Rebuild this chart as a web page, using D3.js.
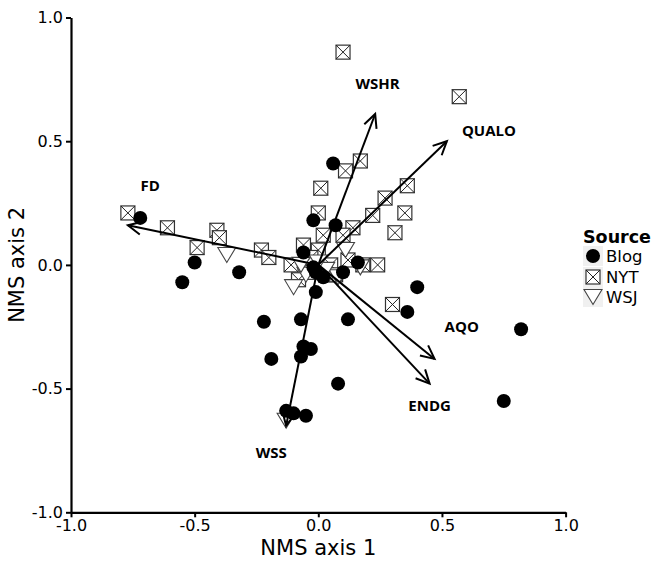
<!DOCTYPE html>
<html>
<head>
<meta charset="utf-8">
<script src="https://cdn.jsdelivr.net/npm/d3@7"></script>
<style>
  body { margin: 0; background: #fff; }
</style>
</head>
<body>
<div id="wrapper"></div>
<script>
// NMS site scores
const blogPoints = [
    [-0.72, 0.19], [-0.50, 0.01], [-0.55, -0.07], [-0.32, -0.03], [-0.22, -0.23],
    [-0.19, -0.38], [-0.07, -0.22], [-0.06, -0.33], [-0.07, -0.37], [-0.03, -0.34],
    [-0.13, -0.59], [-0.10, -0.60], [-0.05, -0.61], [-0.01, -0.11], [-0.01, -0.03],
    [-0.02, -0.01], [0.02, -0.05], [-0.06, 0.05], [-0.02, 0.18], [0.06, 0.41],
    [0.07, 0.16], [0.10, -0.03], [0.16, 0.01], [0.12, -0.22], [0.08, -0.48],
    [0.40, -0.09], [0.36, -0.19], [0.82, -0.26], [0.75, -0.55]
]
const nytPoints = [
    [-0.77, 0.21], [-0.61, 0.15], [-0.49, 0.07], [-0.41, 0.14], [-0.40, 0.11],
    [-0.23, 0.06], [-0.20, 0.03], [-0.11, 0.00], [-0.06, 0.08], [0.01, 0.31],
    [0.00, 0.21], [0.02, 0.12], [0.10, 0.86], [0.57, 0.68], [0.17, 0.42],
    [0.11, 0.38], [0.36, 0.32], [0.27, 0.27], [0.35, 0.21], [0.22, 0.20],
    [0.31, 0.13], [0.14, 0.15], [0.10, 0.12], [0.24, 0.00], [0.00, 0.06],
    [0.12, 0.02], [0.18, 0.00], [-0.08, -0.06], [0.30, -0.16], [0.05, 0.00],
    [-0.03, 0.03], [0.03, -0.04], [0.07, -0.04], [-0.03, -0.03]
]
const wsjPoints = [
    [-0.37, 0.04], [-0.10, -0.09], [-0.13, -0.63], [0.11, 0.06], [0.17, -0.01],
    [0.08, -0.05], [0.03, -0.02], [-0.05, -0.04], [-0.07, 0.00], [0.00, 0.01]
]

// fitted variable vectors and where their names sit
const vectorNames = ["FD", "WSHR", "QUALO", "AQO", "ENDG", "WSS"]
const vectorEnds = [[-0.77, 0.16], [0.23, 0.61], [0.52, 0.50], [0.47, -0.38], [0.45, -0.48], [-0.13, -0.65]]
const vectorLabelAt = [[-0.68, 0.30], [0.24, 0.71], [0.69, 0.52], [0.58, -0.27], [0.45, -0.59], [-0.19, -0.78]]

const axisTicks = [-1.0, -0.5, 0.0, 0.5, 1.0]
const legendItems = ["Blog", "NYT", "WSJ"]

const dimensions = {
    width: 657,
    height: 563,
    left: 71,
    right: 565.6,
    top: 17.5,
    bottom: 512.3,
}

const svg = d3.select("#wrapper")
    .append("svg")
    .attr("width", dimensions.width)
    .attr("height", dimensions.height)
    .style("font-family", "'DejaVu Sans', sans-serif")

const xScale = d3.scaleLinear().domain([-1, 1]).range([dimensions.left, dimensions.right])
const yScale = d3.scaleLinear().domain([-1, 1]).range([dimensions.bottom, dimensions.top])

const tickFmt = d => d3.format(".1f")(d).replace("\u2212", "-")

// axes
const xAxis = svg.append("g")
    .attr("transform", `translate(0,${dimensions.bottom})`)
    .call(d3.axisBottom(xScale).tickValues(axisTicks).tickFormat(tickFmt)
        .tickSize(5).tickSizeOuter(0).tickPadding(2))
const yAxis = svg.append("g")
    .attr("transform", `translate(${dimensions.left},0)`)
    .call(d3.axisLeft(yScale).tickValues(axisTicks).tickFormat(tickFmt)
        .tickSize(5).tickSizeOuter(0).tickPadding(3))

for (const ax of [xAxis, yAxis]) {
    ax.select(".domain").attr("stroke", "#000").attr("stroke-width", 2.2)
    ax.selectAll(".tick line").attr("stroke", "#000").attr("stroke-width", 2)
    ax.selectAll(".tick text")
        .style("font-family", "'DejaVu Sans', sans-serif")
        .attr("font-size", "16px")
        .attr("fill", "#000")
}

svg.append("text")
    .attr("x", xScale(0))
    .attr("y", 555)
    .attr("text-anchor", "middle")
    .attr("font-size", "21px")
    .text("NMS axis 1")

svg.append("text")
    .attr("transform", `translate(24,${yScale(0)}) rotate(-90)`)
    .attr("text-anchor", "middle")
    .attr("font-size", "21px")
    .text("NMS axis 2")

// marker shapes
function drawBox(g, size) {
    const h = size / 2
    g.append("rect")
        .attr("x", -h).attr("y", -h)
        .attr("width", size).attr("height", size)
        .attr("fill", "#fff")
        .attr("stroke", "#333")
        .attr("stroke-width", 1.2)
    g.append("path")
        .attr("d", `M${-h},${-h}L${h},${h}M${h},${-h}L${-h},${h}`)
        .attr("stroke", "#222")
        .attr("stroke-width", 1)
}
function drawTriangle(g, w, hgt) {
    g.append("path")
        .attr("d", `M${-w / 2},${-hgt / 2}L${w / 2},${-hgt / 2}L0,${hgt / 2}Z`)
        .attr("fill", "#fff")
        .attr("stroke", "#444")
        .attr("stroke-width", 1.1)
}

const pointsLayer = svg.append("g")

pointsLayer.selectAll("g.nyt")
    .data(nytPoints)
    .enter()
    .append("g")
    .attr("class", "nyt")
    .attr("transform", d => `translate(${xScale(d[0])},${yScale(d[1])})`)
    .each(function () { drawBox(d3.select(this), 14) })

pointsLayer.selectAll("g.wsj")
    .data(wsjPoints)
    .enter()
    .append("g")
    .attr("class", "wsj")
    .attr("transform", d => `translate(${xScale(d[0])},${yScale(d[1])})`)
    .each(function () { drawTriangle(d3.select(this), 18, 15) })

pointsLayer.selectAll("circle.blog")
    .data(blogPoints)
    .enter()
    .append("circle")
    .attr("class", "blog")
    .attr("cx", d => xScale(d[0]))
    .attr("cy", d => yScale(d[1]))
    .attr("r", 7)
    .attr("fill", "#000")

// biplot arrows
const arrowLayer = svg.append("g")
const x0 = xScale(0), y0 = yScale(0)
vectorEnds.forEach((d, i) => {
    const x1 = xScale(d[0]), y1 = yScale(d[1])
    const ang = Math.atan2(y1 - y0, x1 - x0)
    const len = 15, spread = 0.45
    const a1 = [x1 - len * Math.cos(ang - spread), y1 - len * Math.sin(ang - spread)]
    const a2 = [x1 - len * Math.cos(ang + spread), y1 - len * Math.sin(ang + spread)]
    arrowLayer.append("line")
        .attr("x1", x0).attr("y1", y0)
        .attr("x2", x1).attr("y2", y1)
        .attr("stroke", "#000")
        .attr("stroke-width", 2)
    arrowLayer.append("path")
        .attr("d", `M${a1[0]},${a1[1]}L${x1},${y1}L${a2[0]},${a2[1]}`)
        .attr("fill", "none")
        .attr("stroke", "#000")
        .attr("stroke-width", 2)

    arrowLayer.append("text")
        .attr("x", xScale(vectorLabelAt[i][0]))
        .attr("y", yScale(vectorLabelAt[i][1]))
        .attr("text-anchor", "middle")
        .style("font-family", "'Open Sans', sans-serif")
        .attr("font-weight", "bold")
        .attr("font-size", "15px")
        .text(vectorNames[i])
})

// legend
const legend = svg.append("g").attr("transform", "translate(583,0)")
legend.append("text")
    .attr("x", 0)
    .attr("y", 243)
    .attr("font-weight", "bold")
    .attr("font-size", "17.5px")
    .text("Source")

const keyY = [256, 277, 297]
legendItems.forEach((name, i) => {
    const g = legend.append("g").attr("transform", `translate(10,${keyY[i]})`)
    g.append("rect")
        .attr("x", -10).attr("y", -10)
        .attr("width", 20).attr("height", 20)
        .attr("fill", "#f0f0f0")
    if (i === 0) g.append("circle").attr("r", 7).attr("fill", "#000")
    if (i === 1) drawBox(g, 14)
    if (i === 2) drawTriangle(g, 18, 15)
    legend.append("text")
        .attr("x", 23)
        .attr("y", keyY[i] + 6)
        .attr("font-size", "16.5px")
        .text(name)
})
</script>
</body>
</html>
